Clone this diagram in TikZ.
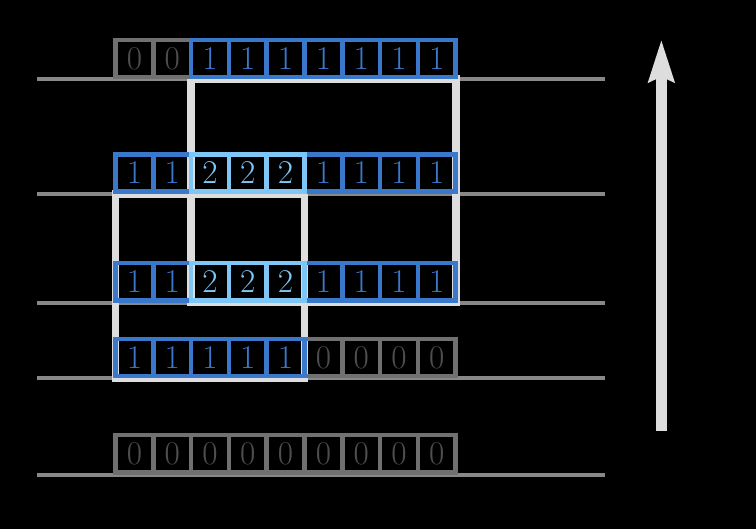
\documentclass[tikz,border=0pt]{standalone}
\usepackage{fontspec}
\usepackage{xcolor}
\usepackage{tikz}
\usetikzlibrary{arrows.meta}
\pgfdeclarelayer{background}
\pgfsetlayers{background,main}

\definecolor{cellgray}{RGB}{112,112,112}
\definecolor{zerotext}{RGB}{78,78,78}
\definecolor{oneblue}{RGB}{58,120,204}
\definecolor{twoblue}{RGB}{125,198,246}
\definecolor{basegray}{RGB}{136,136,136}
\definecolor{spangray}{RGB}{221,221,221}

\begin{document}
\begin{tikzpicture}[
  cell/.style={rectangle, draw, line width=1.2mm, minimum width=1cm, minimum height=0.98cm, inner sep=0pt, outer sep=0pt, font=\fontsize{25}{25}\selectfont},
  zero/.style={cell, draw=cellgray, text=zerotext},
  one/.style={cell, draw=oneblue, text=oneblue},
  two/.style={cell, draw=twoblue, text=twoblue},
  base/.style={draw=basegray, line width=1.06mm},
  span/.style={draw=spangray, line width=2.1mm},
  arrow/.style={-{Stealth[length=1.11cm, width=0.66cm, inset=0.13cm]}, draw=spangray, fill=spangray, line width=2.8mm}
]
\useasboundingbox (-3.056,-1.442) rectangle (16.944,12.553);

% row 0
\node[zero] (z0) at (0.5,0.55) {0};
\node[zero] (z1) at (1.5,0.55) {0};
\node[zero] (z2) at (2.5,0.55) {0};
\node[zero] (z3) at (3.5,0.55) {0};
\node[zero] (z4) at (4.5,0.55) {0};
\node[zero] (z5) at (5.5,0.55) {0};
\node[zero] (z6) at (6.5,0.55) {0};
\node[zero] (z7) at (7.5,0.55) {0};
\node[zero] (z8) at (8.5,0.55) {0};

% row 1
\node[zero] (p5) at (5.5,3.09) {0};
\node[zero] (p6) at (6.5,3.09) {0};
\node[zero] (p7) at (7.5,3.09) {0};
\node[zero] (p8) at (8.5,3.09) {0};
\node[one] (p0) at (0.5,3.09) {1};
\node[one] (p1) at (1.5,3.09) {1};
\node[one] (p2) at (2.5,3.09) {1};
\node[one] (p3) at (3.5,3.09) {1};
\node[one] (p4) at (4.5,3.09) {1};

% row 2
\node[one] (q0) at (0.5,5.10) {1};
\node[one] (q1) at (1.5,5.10) {1};
\node[one] (q5) at (5.5,5.10) {1};
\node[one] (q6) at (6.5,5.10) {1};
\node[one] (q7) at (7.5,5.10) {1};
\node[one] (q8) at (8.5,5.10) {1};
\node[two] (q2) at (2.5,5.10) {2};
\node[two] (q3) at (3.5,5.10) {2};
\node[two] (q4) at (4.5,5.10) {2};

% row 3
\node[one] (s0) at (0.5,7.98) {1};
\node[one] (s1) at (1.5,7.98) {1};
\node[one] (s5) at (5.5,7.98) {1};
\node[one] (s6) at (6.5,7.98) {1};
\node[one] (s7) at (7.5,7.98) {1};
\node[one] (s8) at (8.5,7.98) {1};
\node[two] (s2) at (2.5,7.98) {2};
\node[two] (s3) at (3.5,7.98) {2};
\node[two] (s4) at (4.5,7.98) {2};

% row 4
\node[zero] (t0) at (0.5,11.01) {0};
\node[zero] (t1) at (1.5,11.01) {0};
\node[one] (t2) at (2.5,11.01) {1};
\node[one] (t3) at (3.5,11.01) {1};
\node[one] (t4) at (4.5,11.01) {1};
\node[one] (t5) at (5.5,11.01) {1};
\node[one] (t6) at (6.5,11.01) {1};
\node[one] (t7) at (7.5,11.01) {1};
\node[one] (t8) at (8.5,11.01) {1};

\begin{pgfonlayer}{background}
\fill[black] (-3.056,-1.442) rectangle (16.944,12.553);
% baselines
\draw[base] (-2.08,0) -- (12.95,0);
\draw[base] (-2.08,2.54) -- (12.95,2.54);
\draw[base] (-2.08,4.55) -- (12.95,4.55);
\draw[base] (-2.08,7.43) -- (12.95,7.43);
\draw[base] (-2.08,10.46) -- (12.95,10.46);
% intervals
\draw[span] ([yshift=-0.6mm]p0.south west) rectangle ([yshift=-0.6mm]s4.south east);
\draw[span] ([yshift=-0.6mm]q2.south west) rectangle ([yshift=-0.6mm]t8.south east);
\end{pgfonlayer}

% time
\coordinate (tbot) at (14.44,1.16);
\coordinate (ttop) at (14.44,11.51);
\draw[arrow] (tbot) -- (ttop);
\end{tikzpicture}
\end{document}
